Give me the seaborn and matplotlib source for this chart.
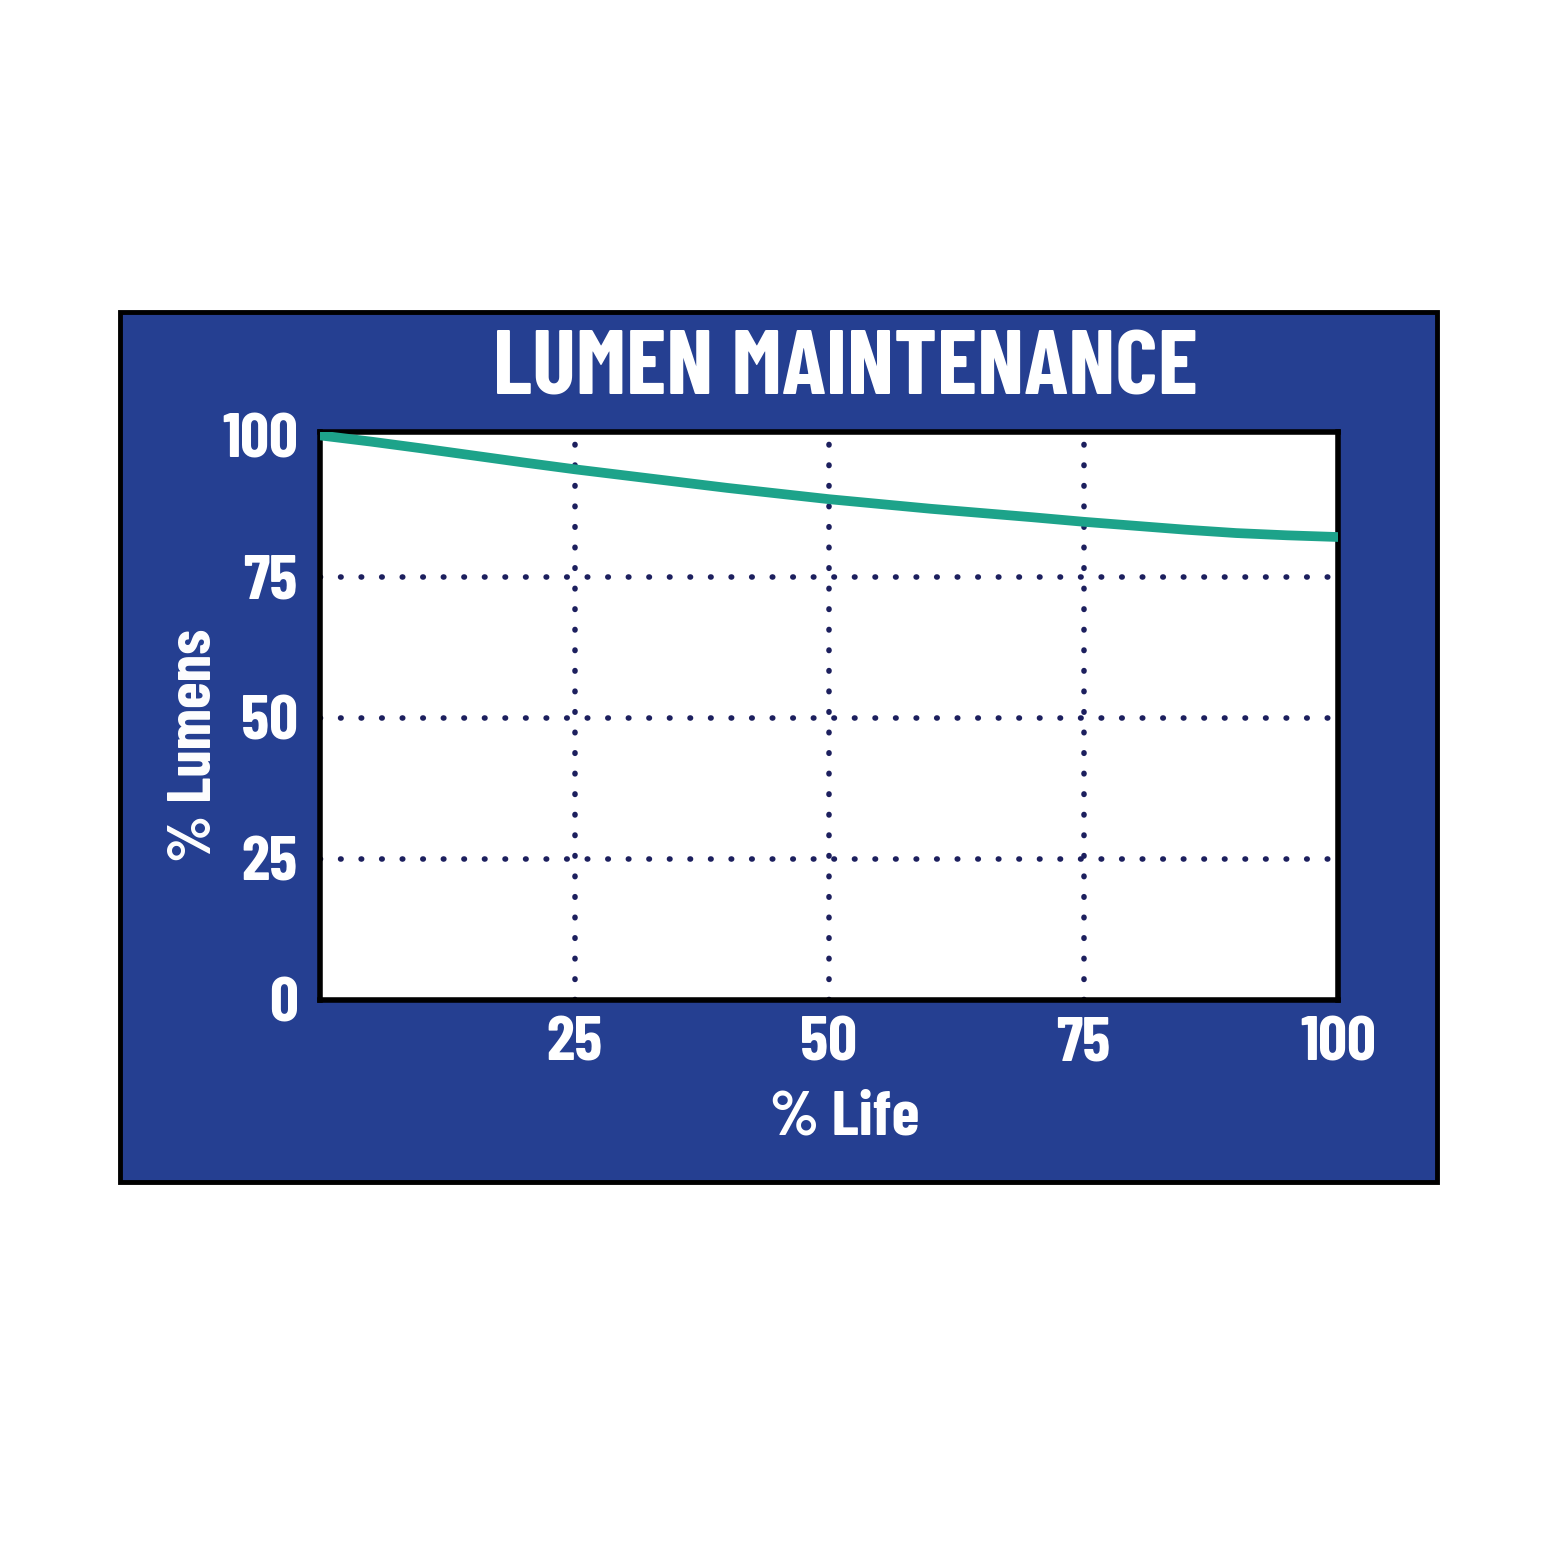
import matplotlib
matplotlib.use("Agg")
import matplotlib.pyplot as plt
import seaborn as sns
import pandas as pd
from matplotlib.patches import Rectangle

# curve
life_pct = [0, 5, 10, 20, 25, 30, 40, 50, 60, 70, 75, 80, 85, 90, 95, 100]
lumens_pct = [100, 98.9, 97.7, 95.2, 94.0, 92.9, 90.7, 88.7, 87.0, 85.5, 84.7, 84.0, 83.3, 82.7, 82.3, 82.0]
y_ticks = [0, 25, 50, 75, 100]
x_ticks = [25, 50, 75, 100]
grid_vals = [25, 50, 75]

BLUE = "#253f91"
TEAL = "#1da38a"
DOT = "#1c1f5e"

sns.set_style("white")
# narrow bold face like the original; DejaVu condensed if Barlow is missing
plt.rcParams["font.family"] = ["Barlow Condensed", "DejaVu Sans"]
plt.rcParams["font.weight"] = "bold"
plt.rcParams["font.stretch"] = "condensed"

df = pd.DataFrame({"life": life_pct, "lumens": lumens_pct})

fig = plt.figure(figsize=(15.62, 15.62), dpi=100)
fig.patch.set_facecolor("white")
fig.patches.append(Rectangle((120 / 1562, 1 - 1182 / 1562), 1317 / 1562, 870 / 1562,
                             transform=fig.transFigure, facecolor=BLUE,
                             edgecolor="black", linewidth=3.5, zorder=-1))

ax = fig.add_axes([320 / 1562, 1 - 1000 / 1562, 1018 / 1562, 568 / 1562])
ax.set_facecolor("white")

for v in grid_vals:
    ax.axvline(v, color=DOT, lw=4, linestyle=(0, (0.1, 3.6)), dash_capstyle="round", zorder=1)
    ax.axhline(v, color=DOT, lw=4, linestyle=(0, (0.1, 3.6)), dash_capstyle="round", zorder=1)

sns.lineplot(data=df, x="life", y="lumens", color=TEAL, linewidth=7, ax=ax, zorder=3)

ax.set_xlim(0, 100)
ax.set_ylim(0, 100.6)
ax.set_xticks(x_ticks)
ax.set_yticks(y_ticks)
ax.tick_params(length=0, labelsize=46, labelcolor="white")
ax.tick_params(axis="x", pad=12)
ax.tick_params(axis="y", pad=16)
for spine in ax.spines.values():
    spine.set_visible(True)
    spine.set_color("black")
    spine.set_linewidth(4)
ax.set_xlabel("")
ax.set_ylabel("")

fig.text(845 / 1562, 1 - 371 / 1562, "LUMEN MAINTENANCE", color="white", fontsize=66,
         fontweight="bold", ha="center", va="center")
fig.text(195 / 1562, 1 - 745 / 1562, "% Lumens", color="white", fontsize=44,
         fontweight="bold", ha="center", va="center", rotation=90)
fig.text(845 / 1562, 1 - 1118 / 1562, "% Life", color="white", fontsize=46,
         fontweight="bold", ha="center", va="center")

fig.savefig("out.png", dpi=100)
